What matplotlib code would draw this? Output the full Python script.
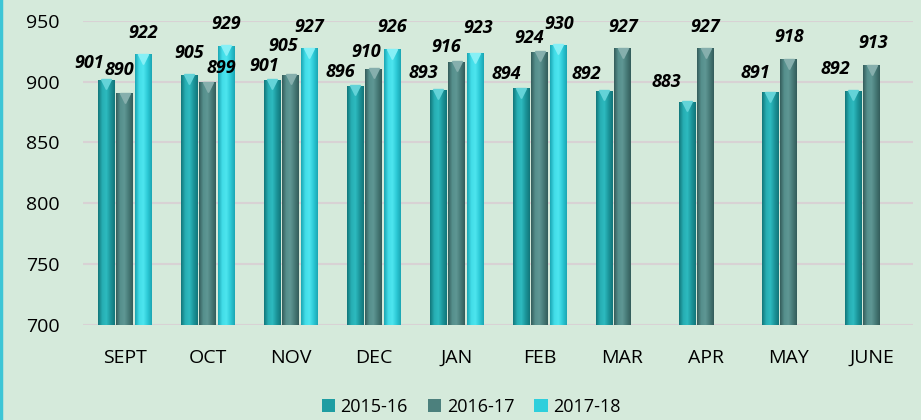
import numpy as np
import matplotlib
matplotlib.use("Agg")
import matplotlib.pyplot as plt
from matplotlib.colors import LinearSegmentedColormap
from matplotlib.lines import Line2D
import matplotlib.transforms as mtransforms

plt.rcParams['font.family'] = ['Open Sans', 'DejaVu Sans']

# data
months = ['SEPT', 'OCT', 'NOV', 'DEC', 'JAN', 'FEB', 'MAR', 'APR', 'MAY', 'JUNE']
seasons = ['2015-16', '2016-17', '2017-18']
v_2015 = [901, 905, 901, 896, 893, 894, 892, 883, 891, 892]
v_2016 = [890, 899, 905, 910, 916, 924, 927, 927, 918, 913]
v_2017 = [922, 929, 927, 926, 923, 930, None, None, None, None]

# label nudges in pixels (dx, dy above bar top), Excel had them hand-placed
lab_2015 = [(-17, 17), (0, 22), (-8, 14), (-15, 14), (-15, 17), (-15, 15),
            (-18, 17), (-21, 20), (-15, 20), (-18, 22)]
lab_2016 = [(-5, 24), (14, 15), (-7, 29), (-7, 17), (-10, 15), (-10, 14),
            (1, 22), (0, 22), (1, 23), (2, 23)]
lab_2017 = [(0, 22), (0, 22), (0, 22), (0, 23), (3, 26), (1, 21)]

base_cols = ['#1E9DA2', '#4C807D', '#2ECFDC']
grad_cols = [['#11767A', '#27AEB3', '#2DBABF', '#1C959A', '#11767A'],
             ['#345D5B', '#56908D', '#5F9794', '#477A77', '#345D5B'],
             ['#1BA6B3', '#42DDE8', '#4DE5EF', '#2CC9D6', '#1BA6B3']]
cap_cols = ['#63D3D8', '#86AFAD', '#86F0F6']

bg = '#D5EADB'
ymin, ymax = 700, 950

fig = plt.figure(figsize=(9.21, 4.2), dpi=100, facecolor=bg)
ax = fig.add_axes([83 / 921, 1 - 325 / 420, 830 / 921, 304.3 / 420])
ax.set_facecolor(bg)

x = np.arange(len(months))
step = 0.223
width = 0.193
grad = np.linspace(0, 1, 64).reshape(1, -1)

all_vals = [v_2015, v_2016, v_2017]
all_labs = [lab_2015, lab_2016, lab_2017]
handles = []
for k, vals in enumerate(all_vals):
    xs = [xi + (k - 1) * step for xi, v in zip(x, vals) if v is not None]
    ys = [v for v in vals if v is not None]
    bars = ax.bar(xs, ys, width=width, color=base_cols[k], edgecolor='none',
                  label=seasons[k], zorder=2)
    handles.append(bars)
    cmap = LinearSegmentedColormap.from_list('g%d' % k, grad_cols[k])
    for b in bars:
        x0, w = b.get_x(), b.get_width()
        im = ax.imshow(grad, cmap=cmap, aspect='auto', zorder=3,
                       extent=(x0, x0 + w, ymin, b.get_height()))
    # little triangle cap at top of each bar
    cap_tr = mtransforms.offset_copy(ax.transData, fig=fig, x=0, y=-4, units='dots')
    ax.plot(xs, ys, linestyle='none', marker='v', markersize=7,
            color=cap_cols[k], transform=cap_tr, zorder=4)
    for xi, yi, (dx, dy) in zip(xs, ys, all_labs[k]):
        ax.annotate(str(yi), (xi, yi), xytext=(dx, dy), textcoords='offset pixels',
                    ha='center', va='center', fontsize=13, fontweight='bold',
                    fontstyle='italic', color='black', zorder=5)

ax.set_xlim(-0.5, len(months) - 0.5)
ax.set_ylim(ymin, ymax)
ax.set_yticks([700, 750, 800, 850, 900, 950])
ax.set_xticks(x)
ax.set_xticklabels(months)
ax.tick_params(axis='both', length=0, labelsize=14, colors='black')
ax.tick_params(axis='y', pad=17)
ax.tick_params(axis='x', pad=17)
ax.yaxis.grid(True, color='#D8D2D4', linewidth=1.5, zorder=0)
ax.set_axisbelow(True)
for s in ax.spines.values():
    s.set_visible(False)

leg = fig.legend(handles=handles, labels=seasons, loc='center',
                 bbox_to_anchor=(471 / 921, 1 - 407 / 420), ncol=3, frameon=False,
                 fontsize=13, handlelength=0.75, handleheight=0.75,
                 handletextpad=0.3, columnspacing=1.1)

# cyan border on the left edge
fig.add_artist(Line2D([0.0015, 0.0015], [0, 1], transform=fig.transFigure,
                      color='#3DC6D6', linewidth=2.5))

fig.savefig('out.png', dpi=100, facecolor=bg)
